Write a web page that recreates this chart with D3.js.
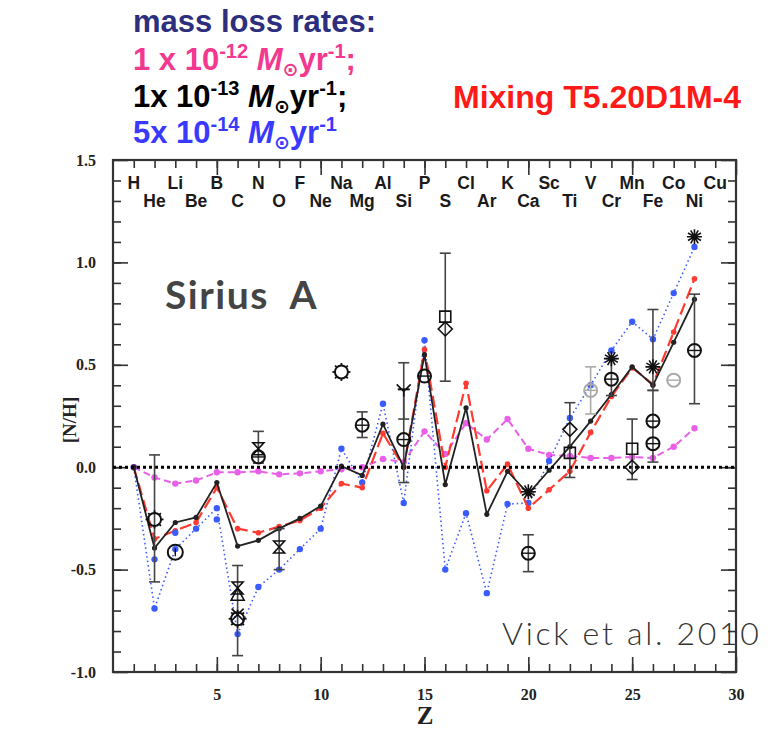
<!DOCTYPE html>
<html>
<head>
<meta charset="utf-8">
<script src="https://cdn.jsdelivr.net/npm/d3@7"></script>
<style>
  body { margin: 0; background: #fff; }
  .tick line { stroke: #333; stroke-width: 1.6; }
  .domain { display: none; }
</style>
</head>
<body>
<svg id="chart" width="781" height="730"></svg>
<script>
// element names along the top, Z = 1..29
const elementNames = ["H", "He", "Li", "Be", "B", "C", "N", "O", "F", "Ne", "Na", "Mg", "Al", "Si", "P",
    "S", "Cl", "Ar", "K", "Ca", "Sc", "Ti", "V", "Cr", "Mn", "Fe", "Co", "Ni", "Cu"];

// model curves, Z = 1..28
const modelZ = d3.range(1, 29);
const rate12 = [0, -0.05, -0.08, -0.065, -0.025, -0.025, -0.02, -0.035, -0.03, -0.02, -0.01, 0, 0.04, 0.025,
    0.175, 0.065, 0.215, 0.135, 0.235, 0.09, 0.06, 0.055, 0.045, 0.045, 0.05, 0.045, 0.1, 0.19];
const rate13 = [0, -0.395, -0.27, -0.245, -0.075, -0.385, -0.357, -0.3, -0.25, -0.19, 0.005, -0.04, 0.21, 0,
    0.55, -0.085, 0.29, -0.23, -0.02, -0.13, -0.015, 0.1, 0.225, 0.355, 0.49, 0.4, 0.61, 0.82];
const rate14 = [0, -0.69, -0.4, -0.3, -0.2, -0.815, -0.585, -0.5, -0.4, -0.3, 0.09, -0.075, 0.31, -0.175,
    0.62, -0.5, -0.225, -0.615, -0.18, -0.175, 0.03, 0.24, 0.4, 0.57, 0.71, 0.625, 0.85, 1.075];
const mixing = [0, -0.35, -0.31, -0.27, -0.1, -0.3, -0.32, -0.29, -0.26, -0.2, -0.08, -0.1, 0.165, 0,
    0.575, 0, 0.41, -0.115, 0.015, -0.2, -0.11, -0.02, 0.17, 0.345, 0.485, 0.405, 0.66, 0.92];
const rate14Extra = [[2, -0.45], [3, -0.32], [5, -0.255]];

// observed abundances: [Z, value, symbol, gray?]
const obsPoints = [
    [2, -0.255, "gear"], [3, -0.415, "circleV"],
    [6, -0.59, "hourglass"], [6, -0.625, "triangle"], [6, -0.74, "gear"], [6, -0.72, "cross"],
    [7, 0.09, "hourglass"], [7, 0.05, "circle"], [8, -0.39, "hourglass"],
    [11, 0.465, "gear"], [12, 0.205, "circle"], [14, 0.135, "circle"], [14, 0.38, "trident"],
    [15, 0.445, "circle"], [16, 0.735, "square"], [16, 0.675, "diamond"],
    [20, -0.12, "asterisk"], [20, -0.42, "circle"],
    [22, 0.185, "diamond"], [22, 0.07, "square"], [23, 0.375, "circle", true],
    [24, 0.53, "asterisk"], [24, 0.43, "circle"], [25, 0.09, "square"], [25, 0.0, "diamond"],
    [26, 0.49, "asterisk"], [26, 0.225, "circle"], [26, 0.115, "circle"], [27, 0.425, "circle", true],
    [28, 1.125, "asterisk"], [28, 0.57, "circle"]
];
// error bars: [Z, low, high, gray?]
const obsBars = [
    [2, -0.56, 0.06], [6, -0.92, -0.48], [7, 0.02, 0.175], [8, -0.5, -0.3], [12, 0.145, 0.27],
    [14, -0.075, 0.51], [14, 0.235, 0.38], [16, 0.42, 1.045], [20, -0.51, -0.33], [22, -0.05, 0.315],
    [23, 0.26, 0.49, true], [24, 0.35, 0.53], [25, -0.06, 0.235], [26, 0.025, 0.375], [26, 0.375, 0.77],
    [28, 0.31, 0.845]
];

const xMajor = [5, 10, 15, 20, 25, 30];
const yMajor = [-1.0, -0.5, 0.0, 0.5, 1.0, 1.5];

const svg = d3.select("#chart");
const x = d3.scaleLinear().domain([0, 30]).range([113, 736]);
const y = d3.scaleLinear().domain([-1, 1.5]).range([672, 160]);

// frame
svg.append("rect")
    .attr("x", 113).attr("y", 160).attr("width", 623).attr("height", 512)
    .attr("fill", "none").attr("stroke", "#333").attr("stroke-width", 2.2);

const serif = "'Liberation Serif', 'DejaVu Serif', serif";
const sans = "'Liberation Sans', Arial, sans-serif";

function addAxis(axis, tx, ty, label) {
    const g = svg.append("g").attr("transform", `translate(${tx},${ty})`).call(axis);
    g.selectAll("text")
        .attr("font-family", serif).attr("font-weight", "bold")
        .attr("font-size", 16).attr("fill", "#222");
    if (!label) g.selectAll("text").remove();
    return g;
}

const minorX = d3.range(1, 30);
const minorY = d3.range(-9, 15).map(d => d / 10);

addAxis(d3.axisBottom(x).tickValues(minorX).tickSize(-8).tickFormat(""), 0, 672, false);
addAxis(d3.axisBottom(x).tickValues(xMajor).tickSize(-15).tickPadding(17).tickFormat(d3.format("d")), 0, 672, true);
addAxis(d3.axisTop(x).tickValues(minorX).tickSize(-8), 0, 160, false);
addAxis(d3.axisTop(x).tickValues(xMajor).tickSize(-15), 0, 160, false);
addAxis(d3.axisLeft(y).tickValues(minorY).tickSize(-8).tickFormat(""), 113, 0, false);
addAxis(d3.axisLeft(y).tickValues(yMajor).tickSize(-15).tickPadding(17).tickFormat(d => d3.format(".1f")(d).replace("−", "-")), 113, 0, true);
addAxis(d3.axisRight(y).tickValues(minorY).tickSize(-8), 736, 0, false);
addAxis(d3.axisRight(y).tickValues(yMajor).tickSize(-15), 736, 0, false);

// axis titles
svg.append("text").text("Z")
    .attr("x", 425).attr("y", 724).attr("text-anchor", "middle")
    .attr("font-family", serif).attr("font-weight", "bold").attr("font-size", 25).attr("fill", "#222");
svg.append("text").text("[N/H]")
    .attr("transform", "translate(76,420) rotate(-90)").attr("text-anchor", "middle")
    .attr("font-family", serif).attr("font-weight", "bold").attr("font-size", 19).attr("fill", "#222");

// element row labels
svg.append("g").selectAll("text")
    .data(elementNames)
    .join("text")
    .text(d => d)
    .attr("x", (d, i) => x(i + 1))
    .attr("y", (d, i) => i % 2 === 0 ? 189 : 207)
    .attr("text-anchor", "middle")
    .attr("font-family", sans).attr("font-weight", "bold").attr("font-size", 17.5).attr("fill", "#1a1a1a");

// model curves
const line = d3.line().x(d => x(d[0])).y(d => y(d[1]));
const series = [
    { values: rate12, color: "#e860e8", dash: "7,4", width: 2, r: 3.2 },
    { values: rate14, color: "#3a5cff", dash: "1.5,3", width: 1.6, r: 3.2 },
    { values: mixing, color: "#ff3a30", dash: "12,5", width: 2.2, r: 2.8 },
    { values: rate13, color: "#222", dash: null, width: 1.8, r: 2.6 }
];
series.forEach(s => {
    const pts = modelZ.map((z, i) => [z, s.values[i]]);
    svg.append("path")
        .attr("d", line(pts))
        .attr("fill", "none")
        .attr("stroke", s.color)
        .attr("stroke-width", s.width)
        .attr("stroke-dasharray", s.dash);
    svg.append("g").selectAll("circle")
        .data(pts)
        .join("circle")
        .attr("cx", d => x(d[0])).attr("cy", d => y(d[1]))
        .attr("r", s.r).attr("fill", s.color);
});
svg.append("g").selectAll("circle")
    .data(rate14Extra)
    .join("circle")
    .attr("cx", d => x(d[0])).attr("cy", d => y(d[1]))
    .attr("r", 3.2).attr("fill", "#3a5cff");

// zero line
svg.append("line")
    .attr("x1", 113).attr("x2", 736).attr("y1", y(0)).attr("y2", y(0))
    .attr("stroke", "#000").attr("stroke-width", 3).attr("stroke-dasharray", "3,3");

// error bars
const bars = svg.append("g");
obsBars.forEach(b => {
    const col = b[3] ? "#aaa" : "#444";
    const cx = x(b[0]);
    bars.append("line").attr("x1", cx).attr("x2", cx).attr("y1", y(b[1])).attr("y2", y(b[2]))
        .attr("stroke", col).attr("stroke-width", 1.6);
    [b[1], b[2]].forEach(v => {
        bars.append("line").attr("x1", cx - 5.5).attr("x2", cx + 5.5).attr("y1", y(v)).attr("y2", y(v))
            .attr("stroke", col).attr("stroke-width", 1.6);
    });
});

// observation symbols
function symbolPath(type) {
    const p = d3.path();
    if (type === "square") {
        p.rect(-5.5, -5.5, 11, 11);
    } else if (type === "diamond") {
        p.moveTo(0, -7); p.lineTo(7, 0); p.lineTo(0, 7); p.lineTo(-7, 0); p.closePath();
    } else if (type === "triangle") {
        p.moveTo(0, -7); p.lineTo(6.5, 5); p.lineTo(-6.5, 5); p.closePath();
    } else if (type === "hourglass") {
        p.moveTo(-5.5, -6); p.lineTo(5.5, -6); p.lineTo(-5.5, 6); p.lineTo(5.5, 6); p.closePath();
    } else if (type === "cross") {
        p.moveTo(-6, -6); p.lineTo(6, 6); p.moveTo(6, -6); p.lineTo(-6, 6);
    } else if (type === "trident") {
        p.moveTo(-7, -5); p.lineTo(0, 2); p.lineTo(7, -5); p.moveTo(0, 2); p.lineTo(0, 7);
        p.moveTo(-6, 0); p.lineTo(6, 0);
    } else if (type === "asterisk") {
        for (let k = 0; k < 6; k++) {
            const a = k * Math.PI / 6;
            p.moveTo(-7.5 * Math.cos(a), -7.5 * Math.sin(a));
            p.lineTo(7.5 * Math.cos(a), 7.5 * Math.sin(a));
        }
    }
    return p.toString();
}

const marks = svg.append("g");
obsPoints.forEach(o => {
    const col = o[3] ? "#aaa" : "#111";
    const g = marks.append("g").attr("transform", `translate(${x(o[0])},${y(o[1])})`);
    const t = o[2];
    if (t === "circle" || t === "circleV" || t === "gear") {
        g.append("circle").attr("r", t === "circleV" ? 7.5 : 6.5)
            .attr("fill", "none").attr("stroke", col).attr("stroke-width", 2);
        if (t === "circle") {
            g.append("line").attr("x1", -6.5).attr("x2", 6.5).attr("stroke", col).attr("stroke-width", 1.4);
        }
        if (t === "circleV") {
            g.append("line").attr("y1", -4).attr("y2", 4).attr("stroke", col).attr("stroke-width", 1.4);
        }
        if (t === "gear") {
            d3.range(8).forEach(k => {
                const a = k * Math.PI / 4;
                g.append("line")
                    .attr("x1", 6 * Math.cos(a)).attr("y1", 6 * Math.sin(a))
                    .attr("x2", 9 * Math.cos(a)).attr("y2", 9 * Math.sin(a))
                    .attr("stroke", col).attr("stroke-width", 1.8);
            });
        }
    } else {
        g.append("path").attr("d", symbolPath(t))
            .attr("fill", "none").attr("stroke", col)
            .attr("stroke-width", 1.6);
    }
});

// legend text
const legend = svg.append("g").attr("font-family", sans).attr("font-weight", "bold").attr("font-size", 31);
legend.append("text").text("mass loss rates:").attr("x", 133).attr("y", 32).attr("fill", "#2d2f7e");

const rateLines = [
    { lead: "1 x 10", exp: "-12", tail: ";", color: "#f2398f", y: 70 },
    { lead: "1x 10", exp: "-13", tail: ";", color: "#000", y: 107 },
    { lead: "5x 10", exp: "-14", tail: "", color: "#3a3aff", y: 143 }
];
rateLines.forEach(r => {
    const t = legend.append("text").attr("x", 133).attr("y", r.y).attr("fill", r.color);
    t.append("tspan").text(r.lead);
    t.append("tspan").text(r.exp).attr("font-size", 20).attr("dy", -12);
    t.append("tspan").text(" M").attr("font-style", "italic").attr("dy", 12);
    t.append("tspan").text("⊙").attr("font-size", 19).attr("font-family", "'DejaVu Sans', sans-serif").attr("dy", 6);
    t.append("tspan").text("yr").attr("dy", -6);
    t.append("tspan").text("-1").attr("font-size", 20).attr("dy", -12);
    t.append("tspan").text(r.tail).attr("dy", 12);
});

svg.append("text").text("Mixing T5.20D1M-4")
    .attr("x", 453).attr("y", 108)
    .attr("font-family", sans).attr("font-weight", "bold").attr("font-size", 32).attr("fill", "#ff1a1a");

svg.append("text").text("Sirius\u00a0\u00a0A")
    .attr("x", 165).attr("y", 309)
    .attr("font-family", "Lato, 'Open Sans', sans-serif").attr("font-weight", "bold")
    .attr("font-size", 39).attr("letter-spacing", 1.5).attr("fill", "#444");

svg.append("text").text("Vick et al. 2010")
    .attr("x", 502).attr("y", 645)
    .attr("font-family", "Lato, 'Open Sans', sans-serif").attr("font-weight", 300)
    .attr("font-size", 32).attr("letter-spacing", 2.7).attr("fill", "#333");
</script>
</body>
</html>
